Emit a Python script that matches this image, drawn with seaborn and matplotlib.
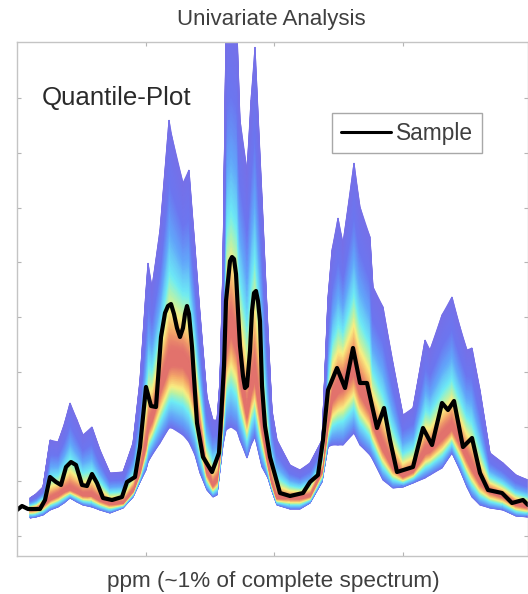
import numpy as np
import pandas as pd
import matplotlib
matplotlib.use("Agg")
import matplotlib.pyplot as plt
from matplotlib.colors import LinearSegmentedColormap
import seaborn as sns

# quantile envelope
channel = [30,36,43,50,58,64,70,77,83,92,100,110,123,133,140,146,148,152,160,169,172,183,189,195,200,207,213,217,220,223,226,231,237,240,247,251,255,262,268,272,277,290,300,310,322,328,332,338,343,354,360,370,373,383,393,403,413,425,430,442,452,460,467,472,480,490,503,516,528]
upper = [38,42,49,96,94,111,133,116,101,109,86,63,64,93,156,246,273,249,306,416,399,353,366,289,223,139,116,116,156,273,506,516,506,416,366,436,489,339,206,126,96,71,66,73,96,239,286,318,293,373,329,299,249,229,173,121,128,196,186,221,239,209,186,188,146,83,73,61,56]
median = [27,28,32,38,42,46,48,45,42,42,37,33,34,46,66,96,111,121,151,178,180,180,171,146,111,66,52,58,86,136,196,216,196,166,126,151,166,116,76,55,39,39,39,41,66,116,141,151,155,171,150,131,116,91,71,61,66,86,88,101,111,96,81,71,56,46,41,33,30]
lower = [18,19,21,26,29,33,38,34,31,29,26,23,28,39,54,66,74,81,93,108,108,101,94,81,63,46,39,41,66,91,106,109,105,96,78,91,99,69,58,45,31,27,27,33,54,89,91,91,91,103,91,81,76,56,48,49,53,58,61,68,83,66,49,39,31,28,26,20,19]

# sample trace
sample_channel = [17,22,28,40,45,50,56,61,66,71,76,82,87,92,97,103,112,122,127,135,140,146,151,156,161,165,168,171,174,177,180,183,185,187,189,192,197,203,212,219,224,226,228,230,232,234,236,238,240,243,245,247,250,252,254,256,258,260,262,265,270,280,290,303,310,318,323,328,337,345,353,360,367,377,384,390,397,413,418,423,432,442,448,454,463,472,480,488,502,512,523,528]
sample = [26,30,27,27,36,59,54,51,69,74,71,51,50,62,53,38,36,39,54,59,89,149,130,129,199,223,230,232,222,208,199,208,222,230,222,189,113,79,64,83,170,235,255,275,279,277,262,225,190,160,148,150,185,225,243,245,235,215,150,110,79,43,40,43,54,61,96,146,168,148,188,153,153,108,128,96,64,69,89,108,91,133,126,135,89,98,63,46,43,33,36,31]

x_ticks = [146, 274, 403]
y_ticks = [0, 55, 109, 164, 219, 274, 328, 383, 438]

title_text = "Univariate Analysis"
note_text = "Quantile-Plot"
x_label = "ppm (~1% of complete spectrum)"

sns.set_theme(style="white")
plt.rcParams["font.family"] = ["Liberation Sans", "DejaVu Sans"]

fig = plt.figure(figsize=(5.28, 5.94), dpi=100)
ax = fig.add_axes([17/528, 38/594, 511/528, 514/594])

ch = np.array(channel, float)
lo, me, up = (np.array(a, float) for a in (lower, median, upper))
s = np.linspace(0, 1, 41)
X = np.tile(ch, (2 * len(s) - 1, 1))
Y = np.vstack([lo + (me - lo) * v for v in s] + [me + (up - me) * v for v in s[1:]])
T = np.tile(np.r_[s / 2, 0.5 + s[1:] / 2][:, None], (1, len(ch)))

stops = [
    (0.00, (112,112,235)), (0.07, (100,155,248)), (0.19, (110,238,245)),
    (0.25, (190,242,160)), (0.29, (250,238,130)), (0.36, (245,170,105)),
    (0.43, (226,114,108)), (0.52, (226,114,108)), (0.56, (245,170,105)), (0.60, (250,238,130)),
    (0.635, (185,242,170)), (0.68, (110,238,245)), (0.775, (98,165,250)),
    (0.875, (108,118,240)), (1.00, (118,112,232)),
]
cmap = LinearSegmentedColormap.from_list(
    "quant", [(p, tuple(c / 255 for c in col)) for p, col in stops])
ax.pcolormesh(X, Y, T, shading="gouraud", cmap=cmap, vmin=0, vmax=1, rasterized=True)

frame = pd.DataFrame({"channel": sample_channel, "value": sample})
sns.lineplot(data=frame, x="channel", y="value", color="black", linewidth=3.0,
             estimator=None, sort=False, label="Sample", solid_joinstyle="round", ax=ax)

ax.set_xlim(17, 528)
ax.set_ylim(-20, 494)
ax.set_xticks(x_ticks)
ax.set_yticks(y_ticks)
ax.tick_params(direction="in", length=3, width=0.8, color="#b5b5b5",
               labelbottom=False, labelleft=False, top=True, right=True,
               bottom=True, left=True)
for sp in ax.spines.values():
    sp.set_color("#c4c4c4")
    sp.set_linewidth(1.0)

ax.set_xlabel("")
ax.set_ylabel("")
fig.text(271.5/528, 1 - 19/594, title_text, ha="center", va="center",
         fontsize=16.0, color="#3f3f3f")
fig.text(273.5/528, 1 - 582/594, x_label, ha="center", va="center",
         fontsize=16.2, color="#3f3f3f")
ax.text(42, 536 - 98, note_text, ha="left", va="center", fontsize=18.6, color="#2a2a2a")

leg = ax.legend(loc="upper left", bbox_to_anchor=((332-17)/511, (556-113)/514),
                borderaxespad=0, frameon=True, fancybox=False, edgecolor="#a8a8a8",
                framealpha=1, fontsize=16.4, handlelength=2.2, handletextpad=0.22,
                borderpad=0.38)
leg.get_frame().set_linewidth(1.0)
leg.get_lines()[0].set_linewidth(2.2)
for t in leg.get_texts():
    t.set_color("#3f3f3f")

fig.savefig("out.png", dpi=100)
